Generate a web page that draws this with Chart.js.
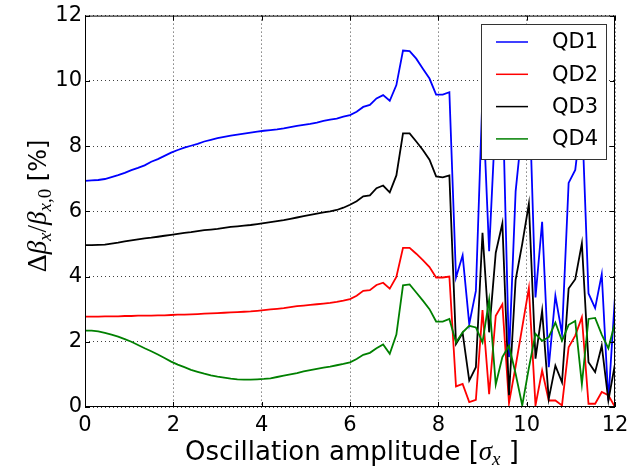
<!DOCTYPE html>
<html>
<head>
<meta charset="utf-8">
<script src="https://cdn.jsdelivr.net/npm/chart.js@4"></script>
<style>
  html, body { margin: 0; padding: 0; background: #fff; }
  #wrap { width: 641px; height: 475px; }
</style>
</head>
<body>
<div id="wrap"><canvas id="chart" width="641" height="475"></canvas></div>
<script>
// oscillation amplitude in units of sigma_x
const amplitude = [0, 0.15, 0.3, 0.45, 0.6, 0.75, 0.9, 1.05, 1.2, 1.35, 1.5, 1.65, 1.8, 1.95, 2.1, 2.25, 2.4, 2.55, 2.7, 2.85,
  3, 3.15, 3.3, 3.45, 3.6, 3.75, 3.9, 4.05, 4.2, 4.35, 4.5, 4.65, 4.8, 4.95, 5.1, 5.25, 5.4, 5.55, 5.7, 5.85,
  6, 6.15, 6.3, 6.45, 6.6, 6.75, 6.9, 7.05, 7.2, 7.35, 7.5, 7.65, 7.8, 7.95, 8.1, 8.25, 8.4, 8.55, 8.7, 8.85,
  9, 9.15, 9.3, 9.45, 9.6, 9.75, 9.9, 10.05, 10.2, 10.35, 10.5, 10.65, 10.8, 10.95, 11.1, 11.25, 11.4, 11.55, 11.7, 11.85, 12];

const qd1 = [6.93, 6.95, 6.96, 6.99, 7.05, 7.11, 7.18, 7.26, 7.33, 7.41, 7.52, 7.60, 7.70, 7.80, 7.88, 7.95, 8.01, 8.07, 8.14, 8.19,
  8.24, 8.28, 8.32, 8.35, 8.38, 8.41, 8.44, 8.47, 8.49, 8.51, 8.54, 8.58, 8.62, 8.65, 8.68, 8.72, 8.77, 8.81, 8.84, 8.90,
  8.95, 9.05, 9.20, 9.26, 9.46, 9.56, 9.39, 9.87, 10.93, 10.91, 10.68, 10.37, 10.07, 9.58, 9.58, 9.65, 3.97, 4.65, 2.54, 3.56,
  9.6, 4.78, 9.0, 9.8, 1.53, 6.61, 8.6, 10.0, 3.36, 5.68, 1.22, 3.41, 2.24, 6.87, 7.27, 9.0, 3.48, 3.03, 4.07, 0.2, 3.40];

const qd2 = [2.77, 2.77, 2.77, 2.78, 2.78, 2.78, 2.79, 2.79, 2.80, 2.80, 2.80, 2.81, 2.81, 2.82, 2.83, 2.83, 2.84, 2.85, 2.86, 2.87,
  2.88, 2.89, 2.90, 2.91, 2.92, 2.93, 2.95, 2.97, 2.99, 3.01, 3.03, 3.06, 3.09, 3.11, 3.13, 3.15, 3.17, 3.19, 3.22, 3.26,
  3.31, 3.41, 3.56, 3.58, 3.74, 3.81, 3.63, 3.99, 4.88, 4.88, 4.70, 4.50, 4.29, 3.97, 3.97, 4.00, 0.63, 0.71, 0.15, 0.22,
  2.97, 0.39, 2.80, 3.15, 0.12, 1.25, 2.45, 3.65, 0.05, 1.12, 0.2, 0.2, 0.05, 1.83, 2.19, 2.75, 0.1, 0.1, 0.46, 0.36, 0.0];

const qd3 = [4.96, 4.96, 4.97, 4.98, 5.01, 5.04, 5.08, 5.11, 5.14, 5.17, 5.19, 5.22, 5.25, 5.28, 5.31, 5.34, 5.36, 5.39, 5.42, 5.44,
  5.46, 5.49, 5.52, 5.54, 5.56, 5.58, 5.61, 5.64, 5.67, 5.70, 5.73, 5.77, 5.81, 5.85, 5.89, 5.93, 5.97, 6.00, 6.04, 6.11,
  6.20, 6.31, 6.46, 6.49, 6.71, 6.79, 6.58, 7.10, 8.39, 8.39, 8.14, 7.88, 7.58, 7.07, 7.04, 7.10, 1.93, 2.27, 0.81, 1.22,
  5.34, 2.29, 4.73, 5.63, 0.36, 3.90, 5.0, 6.23, 1.48, 2.95, 0.25, 1.27, 0.76, 3.63, 3.92, 5.02, 1.37, 1.07, 1.88, 0.2, 1.32];

const qd4 = [2.34, 2.34, 2.32, 2.27, 2.22, 2.16, 2.08, 2.00, 1.90, 1.80, 1.71, 1.61, 1.50, 1.39, 1.30, 1.22, 1.14, 1.08, 1.02, 0.97,
  0.93, 0.90, 0.87, 0.85, 0.84, 0.84, 0.85, 0.86, 0.88, 0.92, 0.96, 1.00, 1.04, 1.09, 1.13, 1.17, 1.21, 1.24, 1.28, 1.32,
  1.37, 1.47, 1.60, 1.66, 1.80, 1.92, 1.63, 2.22, 3.73, 3.76, 3.51, 3.26, 3.00, 2.62, 2.62, 2.70, 1.98, 2.29, 2.49, 2.44,
  1.98, 3.29, 0.69, 1.53, 1.88, 1.02, 0.05, 1.2, 2.24, 2.03, 2.14, 2.59, 2.03, 2.52, 2.64, 0.7, 2.70, 2.73, 2.22, 1.80, 2.59];

const seriesNames = ["QD1", "QD2", "QD3", "QD4"];
const seriesColors = ["#0000ff", "#ff0000", "#000000", "#008000"];
const seriesValues = [qd1, qd2, qd3, qd4];
const tickValues = [0, 2, 4, 6, 8, 10, 12];

const SANS = "'DejaVu Sans', sans-serif";
const MATH = "'Liberation Serif', 'DejaVu Serif', serif";

function drawRich(ctx, parts, x, y) {
  // parts: [{text, font, dy}] drawn left to right, centred on x, baseline y
  let total = 0;
  for (const p of parts) { ctx.font = p.font; total += ctx.measureText(p.text).width; }
  let cx = x - total / 2;
  ctx.textBaseline = "alphabetic";
  ctx.textAlign = "left";
  for (const p of parts) {
    ctx.font = p.font;
    ctx.fillText(p.text, cx, y + (p.dy || 0));
    cx += ctx.measureText(p.text).width;
  }
}

const framePlugin = {
  id: "frame",
  afterDatasetsDraw(chart) {
    const { ctx, chartArea: a, scales } = chart;
    ctx.save();
    ctx.strokeStyle = "#000";
    ctx.lineWidth = 1;
    ctx.strokeRect(a.left + 0.5, a.top + 0.5, a.right - a.left - 1, a.bottom - a.top - 1);
    // inward ticks on all four sides
    ctx.beginPath();
    for (const v of tickValues) {
      const px = Math.round(scales.x.getPixelForValue(v)) + 0.5;
      ctx.moveTo(px, a.bottom); ctx.lineTo(px, a.bottom - 5);
      ctx.moveTo(px, a.top); ctx.lineTo(px, a.top + 5);
      const py = Math.round(scales.y.getPixelForValue(v)) + 0.5;
      ctx.moveTo(a.left, py); ctx.lineTo(a.left + 5, py);
      ctx.moveTo(a.right, py); ctx.lineTo(a.right - 5, py);
    }
    ctx.stroke();

    // legend box
    const lx = 481, ly = 24, lw = 125, lh = 135;
    ctx.fillStyle = "#fff";
    ctx.fillRect(lx, ly, lw, lh);
    ctx.strokeStyle = "#333";
    ctx.strokeRect(lx + 0.5, ly + 0.5, lw, lh);
    ctx.font = "21px " + SANS;
    ctx.textBaseline = "middle";
    ctx.textAlign = "left";
    seriesNames.forEach((name, i) => {
      const yy = 42 + i * 32.3;
      ctx.strokeStyle = seriesColors[i];
      ctx.lineWidth = 1.5;
      ctx.beginPath();
      ctx.moveTo(496, yy); ctx.lineTo(528, yy);
      ctx.stroke();
      ctx.fillStyle = "#000";
      ctx.fillText(name, 552, yy + 1);
    });
    ctx.restore();
  },
  afterDraw(chart) {
    const { ctx } = chart;
    ctx.save();
    ctx.fillStyle = "#000";
    drawRich(ctx, [
      { text: "Oscillation amplitude [", font: "26px " + SANS },
      { text: "\u03c3", font: "italic 27px " + MATH },
      { text: "x", font: "italic 19px " + MATH, dy: 5 },
      { text: " ]", font: "26px " + SANS },
    ], 352, 460);

    ctx.translate(46, 206);
    ctx.rotate(-Math.PI / 2);
    drawRich(ctx, [
      { text: "\u0394", font: "28px " + MATH },
      { text: "\u03b2", font: "italic 27px " + MATH },
      { text: "x", font: "italic 19px " + MATH, dy: 5 },
      { text: "/", font: "27px " + MATH },
      { text: "\u03b2", font: "italic 27px " + MATH },
      { text: "x", font: "italic 19px " + MATH, dy: 5 },
      { text: ",0", font: "19px " + MATH, dy: 5 },
      { text: " [%]", font: "24px " + SANS },
    ], 0, 0);
    ctx.restore();
  },
};

const datasets = seriesNames.map((name, i) => ({
  label: name,
  data: amplitude.map((a, k) => ({ x: a, y: seriesValues[i][k] })),
  borderColor: seriesColors[i],
  backgroundColor: seriesColors[i],
  borderWidth: 1.8,
  pointRadius: 0,
  tension: 0,
  fill: false,
  order: 4 - i,
}));

const gridStyle = { color: "rgba(0,0,0,0.75)", lineWidth: 1, drawTicks: false };

new Chart(document.getElementById("chart"), {
  type: "line",
  data: { datasets },
  options: {
    responsive: false,
    animation: false,
    layout: { padding: { top: 13, right: 26, left: 0, bottom: 0 } },
    plugins: { legend: { display: false }, tooltip: { enabled: false } },
    scales: {
      x: {
        type: "linear",
        min: 0,
        max: 12,
        afterFit: (s) => { s.height = 68; },
        afterBuildTicks: (s) => { s.ticks = tickValues.map((v) => ({ value: v })); },
        grid: gridStyle,
        border: { display: false, dash: [1, 3] },
        ticks: { color: "#000", font: { family: SANS, size: 21 }, padding: 6, maxRotation: 0 },
      },
      y: {
        type: "linear",
        min: 0,
        max: 12,
        afterFit: (s) => { s.width = 85; },
        afterBuildTicks: (s) => { s.ticks = tickValues.map((v) => ({ value: v })); },
        grid: gridStyle,
        border: { display: false, dash: [1, 3] },
        ticks: { color: "#000", font: { family: SANS, size: 21 }, padding: 3 },
      },
    },
  },
  plugins: [framePlugin],
});
</script>
</body>
</html>
